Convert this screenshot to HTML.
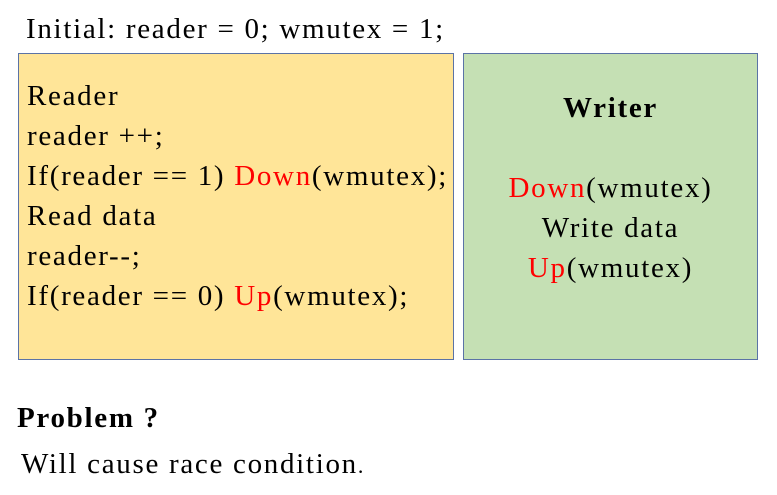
<!DOCTYPE html>
<html><head><style>
body{margin:0;width:777px;height:495px;background:#fff;position:relative;font-family:"Liberation Serif","Times New Roman",serif;color:#000;overflow:hidden}
.t{position:absolute;white-space:nowrap;font-size:29px;line-height:40px;letter-spacing:1.7px}
.box{position:absolute;box-sizing:border-box;border:1.5px solid #5b73a6}
.r{color:#f00}
</style></head><body>
<div class="t" style="left:26px;top:9px;">Initial: reader = 0; wmutex = 1;</div>
<div class="box" style="left:18px;top:53px;width:436px;height:307px;background:#ffe598"></div>
<div class="box" style="left:463px;top:53px;width:295px;height:307px;background:#c5e0b4"></div>
<div class="t" style="left:27px;top:76px;">Reader<br>reader ++;<br>If(reader == 1) <span class="r">Down</span>(wmutex);<br>Read data<br>reader--;<br>If(reader == 0) <span class="r">Up</span>(wmutex);</div>
<div class="t" style="left:463px;width:295px;text-align:center;top:88px;font-weight:bold">Writer</div>
<div class="t" style="left:463px;width:295px;text-align:center;top:168px;">
<span class="r">Down</span>(wmutex)<br>Write data<br><span class="r">Up</span>(wmutex)</div>
<div class="t" style="left:17px;top:398px;font-weight:bold">Problem ?</div>
<div class="t" style="left:21px;top:444px;">Will cause race condition<span style="font-size:22px">.</span></div>
</body></html>
